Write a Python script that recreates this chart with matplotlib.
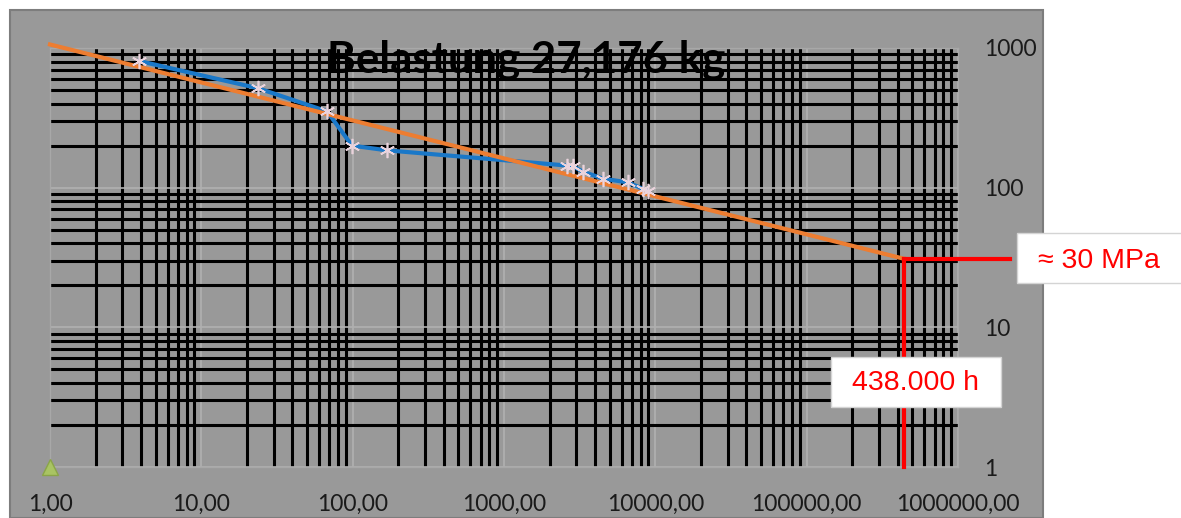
import matplotlib
matplotlib.use("Agg")
import matplotlib.pyplot as plt
from matplotlib.patches import Rectangle
from matplotlib.ticker import LogLocator, FixedLocator, NullFormatter
import numpy as np

W, H = 1181, 518

# measured creep data (time in h, stress in MPa)
zeit = [3.9, 23.7, 67.7, 99, 169, 2612, 2863, 3334, 4518, 6610, 8300, 8960]
spannung = [806, 515, 352, 200, 185, 144, 142, 130, 116, 109, 98, 95]

# power trend line end points
trend_x = [1, 438000]
trend_y = [1060, 31]

# extrapolation to target lifetime
ziel_h = 438000
ziel_mpa = 31
ziel_x_rechts = 2.2e6

start_x = [1]
start_y = [1]

x_ticks = [1, 10, 100, 1000, 10000, 100000, 1000000]
x_labels = ["1,00", "10,00", "100,00", "1000,00", "10000,00", "100000,00", "1000000,00"]
y_ticks = [1, 10, 100, 1000]
y_labels = ["1", "10", "100", "1000"]

fig = plt.figure(figsize=(W / 100, H / 100), dpi=100, facecolor="white")

# grey chart panel
fig.patches.append(Rectangle((10 / W, 0), (1043 - 10) / W, (518 - 10) / H,
                             transform=fig.transFigure, fc="#999999", ec="#7d7d7d", lw=1.5, zorder=-10))

ax = fig.add_axes([50 / W, (518 - 467) / H, (958 - 50) / W, (467 - 48) / H])
ax.set_facecolor("#999999")
ax.set_xscale("log")
ax.set_yscale("log")
ax.set_xlim(1, 1e6)
ax.set_ylim(1, 1000)

ax.xaxis.set_major_locator(FixedLocator(x_ticks))
ax.xaxis.set_minor_locator(LogLocator(base=10, subs=np.arange(2, 10), numticks=20))
ax.yaxis.set_major_locator(FixedLocator(y_ticks))
ax.yaxis.set_minor_locator(LogLocator(base=10, subs=np.arange(2, 10), numticks=20))
ax.xaxis.set_minor_formatter(NullFormatter())
ax.yaxis.set_minor_formatter(NullFormatter())
ax.set_xticklabels(x_labels)
ax.set_yticklabels(y_labels)
ax.yaxis.tick_right()
ax.tick_params(which="both", length=0)
ax.tick_params(axis="x", pad=19, labelsize=16.5, labelcolor="#1a1a1a")
ax.tick_params(axis="y", pad=19, labelsize=16.5, labelcolor="#1a1a1a")
for lab in ax.get_xticklabels() + ax.get_yticklabels():
    lab.set_family("Lato")
for lab in ax.get_yticklabels():
    lab.set_horizontalalignment("left")

ax.grid(which="minor", color="black", lw=2.2, zorder=1)
ax.grid(which="major", color="#b0b0b0", lw=1.2, zorder=1)
ax.set_axisbelow(True)
for s in ax.spines.values():
    s.set_color("#a8a8a8")
    s.set_linewidth(1)

ax.plot(zeit, spannung, color="#1a78c8", lw=3, zorder=3)
ax.plot(trend_x, trend_y, color="#ed7d31", lw=3, zorder=4, clip_on=False)
ax.plot(zeit, spannung, ls="none", marker=(6, 2, 0), ms=11, mew=1.2,
        color="#ead3dc", zorder=5)
ax.plot(start_x, start_y, ls="none", marker="^", ms=11, color="#a9c463",
        mec="#8aa548", clip_on=False, zorder=6)

# red helper lines
ax.plot([ziel_h, ziel_h], [1, ziel_mpa], color="red", lw=3, zorder=6, clip_on=False)
ax.plot([ziel_h, ziel_x_rechts], [ziel_mpa, ziel_mpa], color="red", lw=3, zorder=6, clip_on=False)

# title
fig.text(526 / W, 1 - 73 / H, "Belastung 27,176 kg", ha="center", va="baseline",
         fontsize=31.5, weight="bold", family="Lato", color="black", zorder=10)

# labels in white boxes
fig.patches.append(Rectangle((1017 / W, 1 - 283 / H), (1190 - 1017) / W, 50 / H,
                             transform=fig.transFigure, fc="white", ec="#d4d4d4", lw=1, zorder=8))
fig.text(1038 / W, 1 - 261 / H, "≈ 30 MPa", ha="left", va="center",
         fontsize=20.5, color="red", family="Liberation Sans", zorder=10)

fig.patches.append(Rectangle((831 / W, 1 - 407 / H), (1001 - 831) / W, 50 / H,
                             transform=fig.transFigure, fc="white", ec="#d4d4d4", lw=1, zorder=8))
fig.text(916 / W, 1 - 383 / H, "438.000 h", ha="center", va="center",
         fontsize=20.5, color="red", family="Liberation Sans", zorder=10)

fig.savefig("out.png", dpi=100, facecolor="white")
